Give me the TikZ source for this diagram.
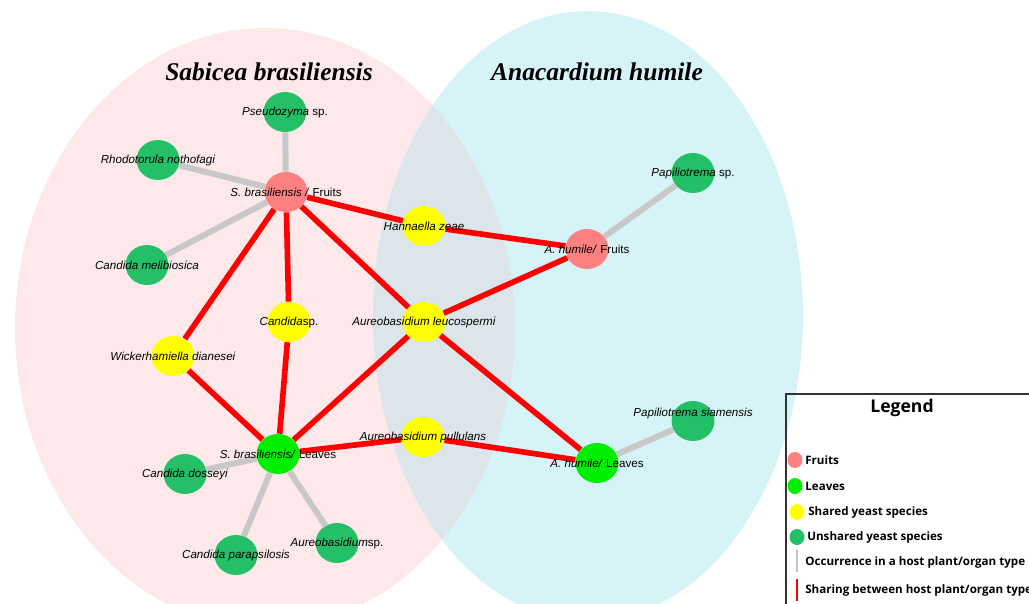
\documentclass[tikz,border=0pt]{standalone}
\usepackage{fontspec}
\usepackage{tikz}
\usetikzlibrary{shapes.geometric}
\newfontfamily\labelfont{Liberation Sans}
\newfontfamily\titlefont{Liberation Serif}
\newfontfamily\legendfont{Open Sans}
\definecolor{fruitpink}{RGB}{255,128,128}
\definecolor{leafgreen}{RGB}{0,238,0}
\definecolor{sharedyellow}{RGB}{255,255,0}
\definecolor{unsharedgreen}{RGB}{36,192,104}
\definecolor{occgrey}{RGB}{200,200,200}
\definecolor{sharered}{RGB}{255,0,0}
\definecolor{sabiceabg}{RGB}{253,233,233}
\definecolor{anacardbg}{RGB}{214,243,247}
\definecolor{overlapbg}{RGB}{220,229,233}
\pgfdeclarelayer{back}
\pgfdeclarelayer{background}
\pgfsetlayers{back,background,main}

\tikzset{
  organ/.style = {ellipse, inner sep=0pt, minimum width=0.86cm, minimum height=0.8cm},
  fruit/.style = {organ, fill=fruitpink},
  leaf/.style = {organ, fill=leafgreen},
  shared/.style = {organ, fill=sharedyellow},
  unshared/.style = {organ, fill=unsharedgreen},
  lbl/.style = {inner sep=0pt, font=\labelfont\fontsize{6.6}{8}\selectfont},
  hosttitle/.style = {font=\titlefont\bfseries\itshape\fontsize{14.5}{17}\selectfont},
  legtext/.style = {anchor=west, inner sep=0pt, font=\legendfont\bfseries\fontsize{6.6}{8}\selectfont},
  legdot/.style = {ellipse, inner sep=0pt, minimum width=0.3cm, minimum height=0.32cm}
}

\begin{document}
\begin{tikzpicture}[x=0.02cm, y=-0.02cm]
  \useasboundingbox (0,0) rectangle (1029,603);
  % host plants
  \begin{pgfonlayer}{back}
    \fill[sabiceabg] (265,328) ellipse [x radius=5cm, y radius=6cm];
    \fill[anacardbg] (588,316) ellipse [x radius=4.3cm, y radius=6.1cm];
    \begin{scope}
      \clip (265,328) ellipse [x radius=5cm, y radius=6cm];
      \fill[overlapbg] (588,316) ellipse [x radius=4.3cm, y radius=6.1cm];
    \end{scope}
  \end{pgfonlayer}
  \node[hosttitle] (sabicea) at (269,72) {Sabicea brasiliensis};
  \node[hosttitle] (anacard) at (597,72) {Anacardium humile};

  % organs and yeasts
  \node[fruit] (sbf) at (286,192) {};
  \node[fruit] (ahf) at (587,249) {};
  \node[leaf] (sbl) at (278,454) {};
  \node[leaf] (ahl) at (597,463) {};
  \node[shared] (hz) at (424,226) {};
  \node[shared] (csp) at (289,322) {};
  \node[shared] (al) at (424,322) {};
  \node[shared] (wd) at (173,356) {};
  \node[shared] (ap) at (423,437) {};
  \node[unshared] (pz) at (285,112) {};
  \node[unshared] (rn) at (158,160) {};
  \node[unshared] (cm) at (147,265) {};
  \node[unshared] (ps) at (693,173) {};
  \node[unshared] (psi) at (693,421) {};
  \node[unshared] (cd) at (185,474) {};
  \node[unshared] (cp) at (236,555) {};
  \node[unshared] (asp) at (337,543) {};

  \begin{pgfonlayer}{background}
    \begin{scope}[occgrey, line width=3.4pt]
      \draw (sbf) -- (pz);
      \draw (sbf) -- (rn);
      \draw (sbf) -- (cm);
      \draw (ahf) -- (ps);
      \draw (ahl) -- (psi);
      \draw (sbl) -- (cd);
      \draw (sbl) -- (cp);
      \draw (sbl) -- (asp);
    \end{scope}
    \begin{scope}[sharered, line width=3.2pt]
      \draw (sbf) -- (hz) -- (ahf);
      \draw (sbf) -- (wd) -- (sbl);
      \draw (sbf) -- (csp) -- (sbl);
      \draw (sbf) -- (al) -- (ahf);
      \draw (sbl) -- (al) -- (ahl);
      \draw (sbl) -- (ap) -- (ahl);
    \end{scope}
  \end{pgfonlayer}

  \begin{scope}[lbl]
    \node at (sbf) {\textit{S. brasiliensis /} Fruits};
    \node at (ahf) {\textit{A. humile/} Fruits};
    \node at (sbl) {\textit{S. brasiliensis/} Leaves};
    \node at (ahl) {\textit{A. humile/} Leaves};
    \node at (hz) {\textit{Hannaella zeae}};
    \node at (csp) {\textit{Candida}sp.};
    \node at (al) {\textit{Aureobasidium leucospermi}};
    \node at (wd) {\textit{Wickerhamiella dianesei}};
    \node at (ap) {\textit{Aureobasidium pullulans}};
    \node at (pz) {\textit{Pseudozyma} sp.};
    \node at (rn) {\textit{Rhodotorula nothofagi}};
    \node at (cm) {\textit{Candida melibiosica}};
    \node at (ps) {\textit{Papiliotrema} sp.};
    \node[yshift=4pt] at (psi) {\textit{Papiliotrema siamensis}};
    \node at (cd) {\textit{Candida dosseyi}};
    \node at (cp) {\textit{Candida parapsilosis}};
    \node at (asp) {\textit{Aureobasidium}sp.};
  \end{scope}

  % legend
  \draw[black!80, line width=0.8pt] (786,394) rectangle (1040,620);
  \node[font=\legendfont\bfseries\fontsize{10}{12}\selectfont] (legend) at (902,408) {Legend};
  \node[legdot, fill=fruitpink] (kfruit) at (795,460) {};
  \node[legdot, fill=leafgreen] (kleaf) at (795,486) {};
  \node[legdot, fill=sharedyellow] (kshared) at (797,512) {};
  \node[legdot, fill=unsharedgreen] (kunshared) at (797,537) {};
  \coordinate (kocc) at (797,561);
  \coordinate (kshare) at (797,590);
  \draw[occgrey!90!brown, line width=1.6pt] ([yshift=6pt]kocc) -- ([yshift=-6pt]kocc);
  \draw[sharered, line width=1.2pt] ([yshift=6pt]kshare) -- ([yshift=-6pt]kshare);
  \node[legtext] at (805,460) {Fruits};
  \node[legtext] at (805,486) {Leaves};
  \node[legtext] at (808,512) {Shared yeast species};
  \node[legtext] at (807,537) {Unshared yeast species};
  \node[legtext] at (805,562) {Occurrence in a host plant/organ type};
  \node[legtext] at (805,590) {Sharing between host plant/organ type};
\end{tikzpicture}
\end{document}
